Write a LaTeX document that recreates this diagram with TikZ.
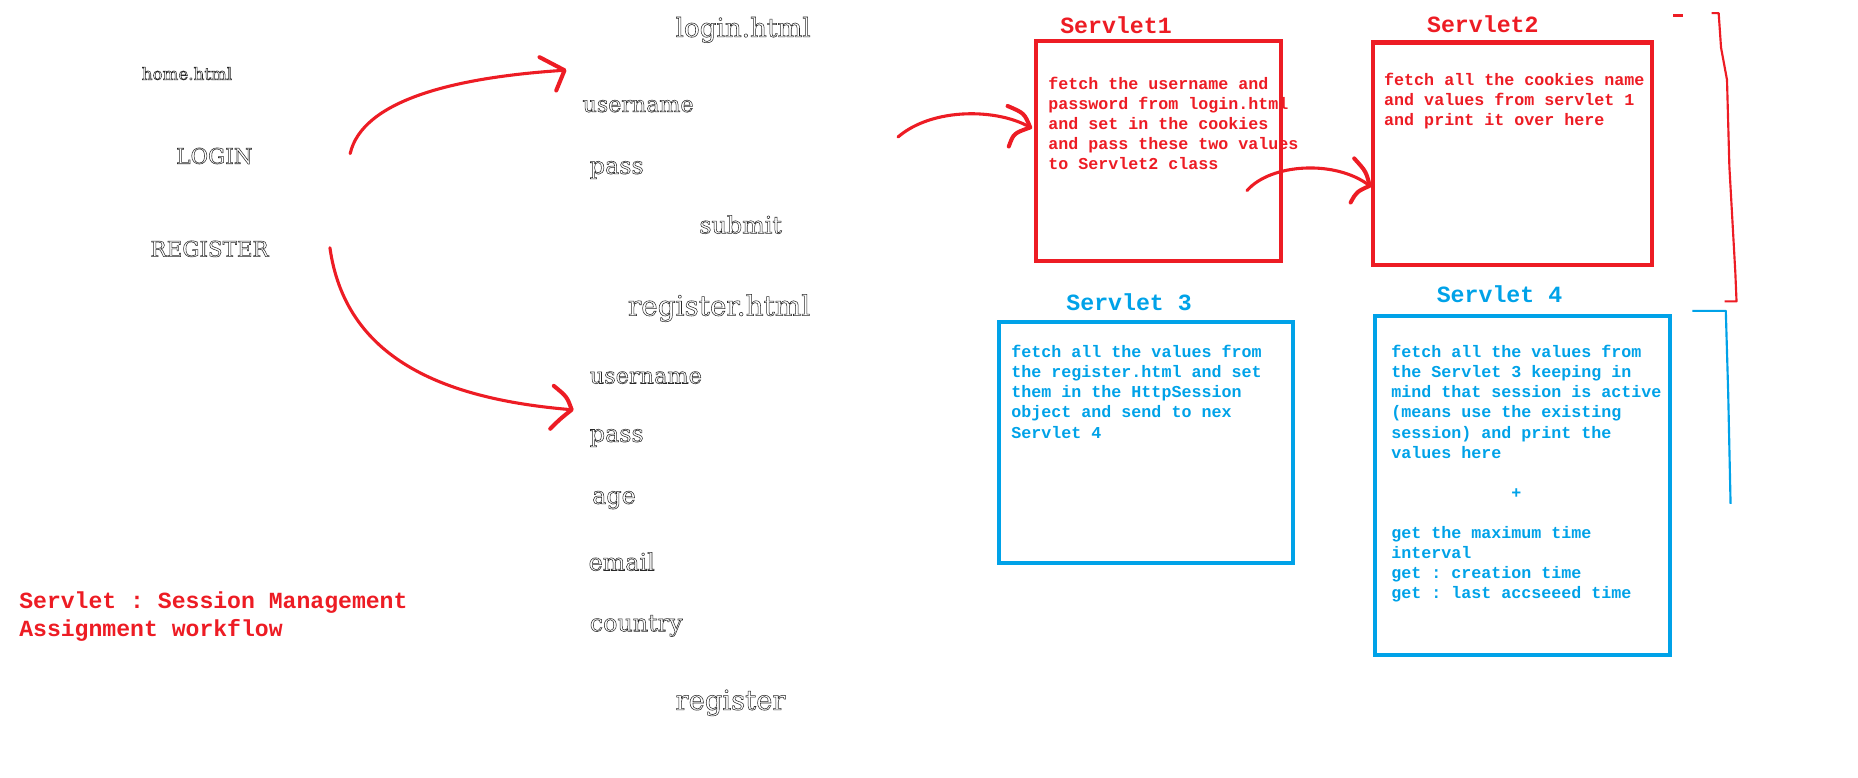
\documentclass[tikz,border=0pt]{standalone}
\usepackage{fontspec}
\newfontfamily\monof{Liberation Mono}
\newfontfamily\seriff{DejaVu Serif}
\definecolor{pred}{RGB}{237,28,36}
\definecolor{pblue}{RGB}{0,162,232}
\definecolor{otext}{RGB}{40,40,40}
\newcommand{\hollow}[1]{\special{pdf:literal direct 1 Tr 0.45 w}#1\special{pdf:literal direct 0 Tr}}
\begin{document}
\frenchspacing
\begin{tikzpicture}[x=1pt,y=-1pt,
  form/.style={font={\seriff\fontsize{20}{24}\selectfont}, text=otext, inner sep=0pt, anchor=base west},
  homef/.style={form, anchor=base, font={\seriff\fontsize{18}{22}\selectfont}},
  redbox/.style={draw=pred, line width=3.4pt, inner sep=0pt},
  bluebox/.style={draw=pblue, line width=3.4pt, inner sep=0pt},
  head/.style={font={\monof\bfseries\fontsize{19.5}{23}\selectfont}, inner sep=0pt},
  boxtext/.style={font={\monof\bfseries\fontsize{14}{16.8}\selectfont\frenchspacing}, align=left, inner sep=0pt, anchor=north west},
  hand/.style={draw=pred, line width=2.6pt, line cap=round, line join=round},
  handhead/.style={hand, line width=3.4pt},
]
\useasboundingbox (0,0) rectangle (1560,652.4);

% home.html column
\node[form, anchor=base, font={\seriff\fontsize{14}{17}\selectfont}] (home) at (157,67) {\hollow{home.html}};
\node[homef] (login) at (180,137.5) {\hollow{LOGIN}};
\node[homef] (register) at (176,215.5) {\hollow{REGISTER}};

% login form
\node[form, font={\seriff\fontsize{22}{26}\selectfont}] (loginhtml) at (567,31) {\hollow{login.html}};
\node[form, font={\seriff\fontsize{18.6}{22}\selectfont}] (user1) at (489,94) {\hollow{username}};
\node[form] (pass1) at (495,146) {\hollow{pass}};
\node[form] (submit) at (587,196) {\hollow{submit}};

% register form
\node[form, font={\seriff\fontsize{23.4}{27}\selectfont}] (reghtml) at (527,265) {\hollow{register.html}};
\node[form, font={\seriff\fontsize{18.8}{22}\selectfont}] (user2) at (495,322) {\hollow{username}};
\node[form] (pass2) at (495,371) {\hollow{pass}};
\node[form] (age) at (497,423) {\hollow{age}};
\node[form] (email) at (494,479) {\hollow{email}};
\node[form] (country) at (495,530) {\hollow{country}};
\node[form, font={\seriff\fontsize{23}{27}\selectfont}] (regbtn) at (567,596) {\hollow{register}};

% title
\node[boxtext, text=pred, font={\monof\bfseries\fontsize{19.4}{23}\selectfont\frenchspacing}] (title) at (16,497)
  {Servlet : Session Management\\Assignment workflow};

% servlet boxes
\node[redbox, minimum width=205.6pt, minimum height=184.6pt] (s1) at (972.5,127) {};
\node[redbox, minimum width=234.6pt, minimum height=186.6pt] (s2) at (1270,129) {};
\node[bluebox, minimum width=246.6pt, minimum height=201.6pt] (s3) at (962,371.5) {};
\node[bluebox, minimum width=247.6pt, minimum height=284.6pt] (s4) at (1278,408) {};

\node[head, text=pred] (h1) at (937,21) {Servlet1};
\node[head, text=pred] (h2) at (1245,20) {Servlet2};
\node[head, text=pblue] (h3) at (948,254) {Servlet 3};
\node[head, text=pblue] (h4) at (1259,247) {Servlet 4};

\node[boxtext, text=pred] (t1) at (880,64.5)
  {fetch the username and\\password from login.html\\and set in the cookies\\and pass these two values\\to Servlet2 class};
\node[boxtext, text=pred] (t2) at (1162,61)
  {fetch all the cookies name\\and values from servlet 1\\and print it over here};
\node[boxtext, text=pblue] (t3) at (849,290)
  {fetch all the values from\\the register.html and set\\them in the HttpSession\\object and send to nex\\Servlet 4};
\node[boxtext, text=pblue] (t4) at (1168,290)
  {fetch all the values from\\the Servlet 3 keeping in\\mind that session is active\\(means use the existing\\session) and print the\\values here\\\mbox{}\\\phantom{xxxxxxxxxxxx}+\\\mbox{}\\get the maximum time\\interval\\get : creation time\\get : last accseeed time};

% hand drawn arrows
\coordinate (a1s) at (294,129);
\coordinate (a1t) at (474,59);
\draw[hand] (a1s) .. controls (304,85) and (379,65) .. (a1t);
\draw[handhead] (453,48) -- (a1t) -- (467,76);

\coordinate (a2s) at (277,208);
\coordinate (a2t) at (480,344);
\draw[hand] (a2s) .. controls (290,300) and (370,335) .. (a2t);
\draw[handhead] (465,324) .. controls (476,333) .. (a2t) .. controls (470,352) .. (462,360);

\coordinate (a3s) at (754,115);
\coordinate (a3t) at (865,107);
\draw[hand] (a3s) .. controls (783,90) and (838,91) .. (a3t);
\draw[handhead] (846,89) .. controls (860,95) .. (a3t) .. controls (851,112) .. (847,123);

\coordinate (a4s) at (1047,160);
\coordinate (a4t) at (1150,156);
\draw[hand] (a4s) .. controls (1067,137) and (1122,134) .. (a4t);
\draw[handhead] (1137,133) .. controls (1147,144) .. (a4t) .. controls (1139,161) .. (1134,170);

% brackets
\draw[draw=pred, line width=1.8pt] (1405,13) -- (1413,13);
\draw[draw=pred, line width=1.8pt, line join=round]
  (1437,11) -- (1443,11) -- (1445,40) -- (1450,67) -- (1452,140) -- (1457,229) -- (1458,253) -- (1448,253);
\draw[draw=pblue, line width=1.8pt, line join=round]
  (1421,261) -- (1449,261) -- (1451,330) -- (1453,423);
\end{tikzpicture}
\end{document}
